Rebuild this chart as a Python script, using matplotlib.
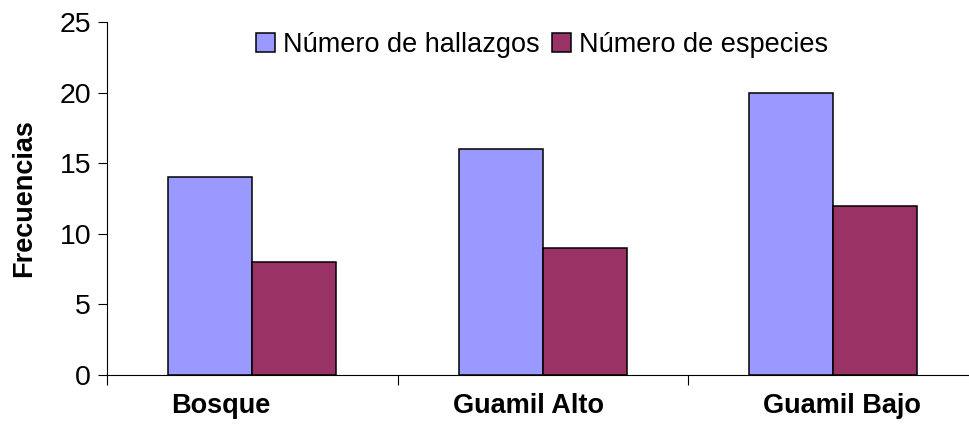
import matplotlib
matplotlib.use("Agg")
import matplotlib.pyplot as plt
import numpy as np

plt.rcParams['font.family'] = ['Liberation Sans', 'DejaVu Sans']

categories = ["Bosque", "Guamil Alto", "Guamil Bajo"]
hallazgos = [14, 16, 20]
especies = [8, 9, 12]
series_names = ["Número de hallazgos", "Número de especies"]
colors = ["#9999FF", "#993366"]

fig = plt.figure(figsize=(9.69, 4.26), dpi=100)
ax = fig.add_axes([107 / 969, 51 / 426, 3 * 290.5 / 969, 353 / 426])

x = np.arange(len(categories))
w = 0.29
ax.bar(x - w / 2, hallazgos, w, color=colors[0], edgecolor="black",
       linewidth=1.1, label=series_names[0])
ax.bar(x + w / 2, especies, w, color=colors[1], edgecolor="black",
       linewidth=1.1, label=series_names[1])

ax.set_xlim(-0.5, len(categories) - 0.5)
ax.set_ylim(0, 25)
ax.set_yticks(np.arange(0, 26, 5))
ax.tick_params(axis="y", direction="out", length=6.5, width=0.8,
               labelsize=20.5, pad=5)

# category boundaries carry the tick marks; labels are spread a bit wider
# than the category centers
ax.set_xticks(np.arange(-0.5, len(categories), 1.0))
ax.set_xticklabels([])
ax.tick_params(axis="x", which="major", direction="out", length=7, width=0.8)
label_shift = np.array([-0.11, -0.05, 0.03])
ax.set_xticks(x + label_shift, minor=True)
ax.set_xticklabels(categories, minor=True, fontsize=19.5, fontweight="bold")
ax.tick_params(axis="x", which="minor", length=0, pad=13)

for side in ["top", "right"]:
    ax.spines[side].set_visible(False)
for side in ["left", "bottom"]:
    ax.spines[side].set_linewidth(0.8)

ax.set_ylabel("Frecuencias", fontsize=19.5, fontweight="bold", labelpad=16)

ax.legend(loc="center", bbox_to_anchor=(0.499, 0.935), ncol=2, frameon=False,
          fontsize=19.5, handlelength=0.7, handleheight=0.7,
          handletextpad=0.3, columnspacing=0.45)

fig.savefig("out.png", dpi=100)
